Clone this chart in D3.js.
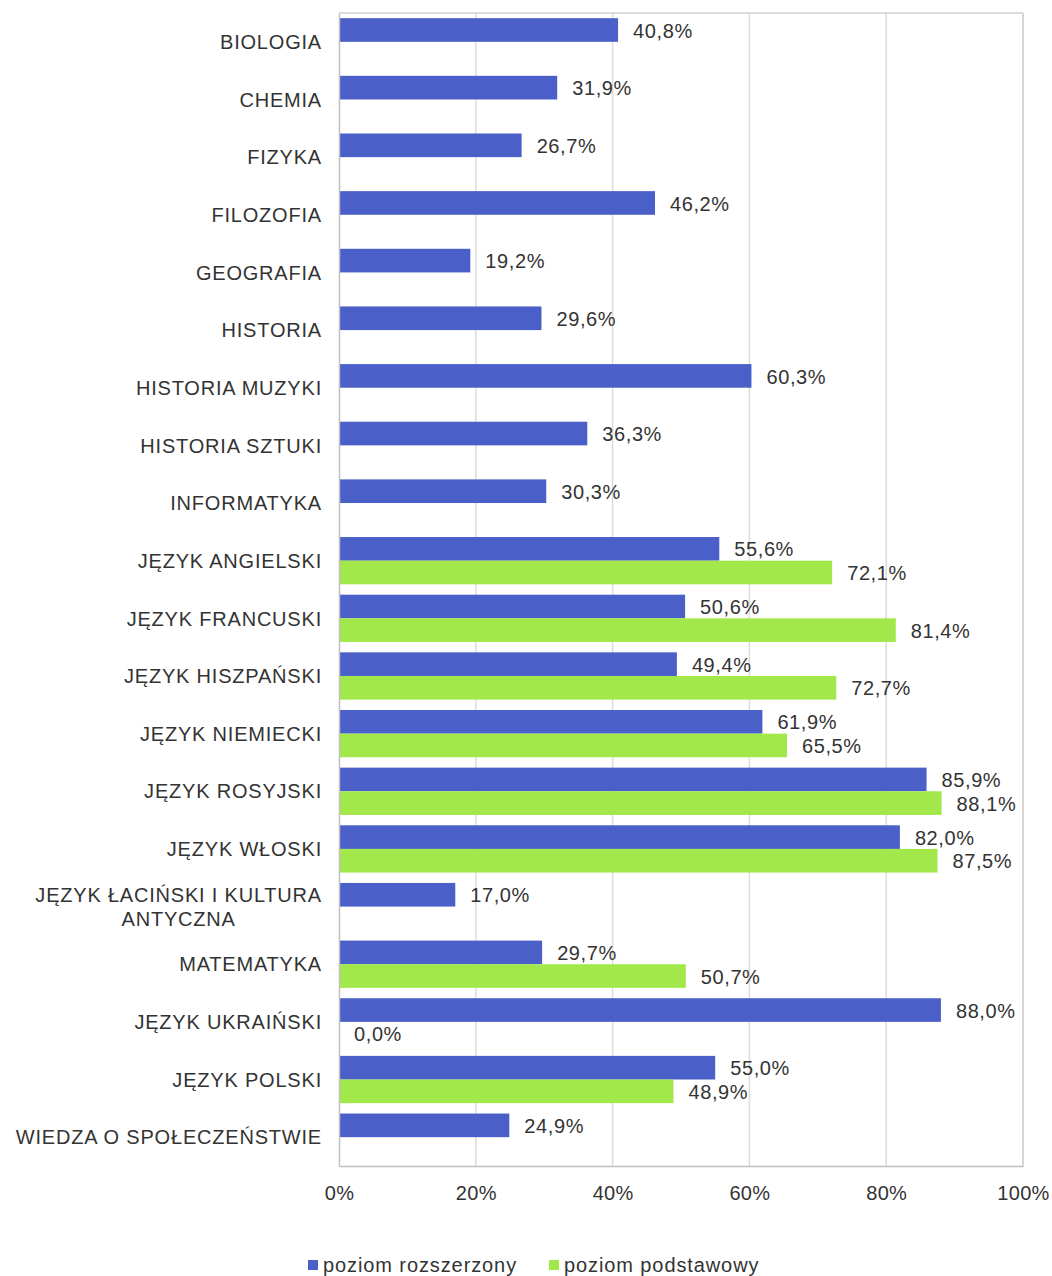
<!DOCTYPE html>
<html>
<head>
<meta charset="utf-8">
<script src="https://cdn.jsdelivr.net/npm/d3@7"></script>
<style>
  body { margin: 0; background: #fff; }
  svg text { font-family: "Liberation Sans", Arial, sans-serif; fill: #333; }
</style>
</head>
<body>
<div id="chart"></div>
<script>
const WIDTH = 1052;
const HEIGHT = 1276;
const LEFT = 339;
const RIGHT = 1023;
const TOP = 13;
const BOTTOM = 1166;

const subjects = [
  "BIOLOGIA",
  "CHEMIA",
  "FIZYKA",
  "FILOZOFIA",
  "GEOGRAFIA",
  "HISTORIA",
  "HISTORIA MUZYKI",
  "HISTORIA SZTUKI",
  "INFORMATYKA",
  "JĘZYK ANGIELSKI",
  "JĘZYK FRANCUSKI",
  "JĘZYK HISZPAŃSKI",
  "JĘZYK NIEMIECKI",
  "JĘZYK ROSYJSKI",
  "JĘZYK WŁOSKI",
  "JĘZYK ŁACIŃSKI I KULTURA\nANTYCZNA",
  "MATEMATYKA",
  "JĘZYK UKRAIŃSKI",
  "JĘZYK POLSKI",
  "WIEDZA O SPOŁECZEŃSTWIE",
];

const extended = [
  40.8, 31.9, 26.7, 46.2, 19.2, 29.6, 60.3, 36.3, 30.3, 55.6,
  50.6, 49.4, 61.9, 85.9, 82.0, 17.0, 29.7, 88.0, 55.0, 24.9,
];

const basic = [
  null, null, null, null, null, null, null, null, null, 72.1,
  81.4, 72.7, 65.5, 88.1, 87.5, null, 50.7, 0.0, 48.9, null,
];

const seriesNames = ["poziom rozszerzony", "poziom podstawowy"];
const colors = ["#4a60c8", "#a3e84b"];
const xTicks = [0, 20, 40, 60, 80, 100];

const svg = d3
  .select("#chart")
  .append("svg")
  .attr("width", WIDTH)
  .attr("height", HEIGHT);

const x = d3.scaleLinear().domain([0, 100]).range([LEFT, RIGHT]);

const y0 = d3
  .scaleBand()
  .domain(d3.range(subjects.length))
  .range([TOP, BOTTOM])
  .paddingInner(0.18)
  .paddingOuter(0.09);

const y1 = d3
  .scaleBand()
  .domain([0, 1])
  .range([0, y0.bandwidth()]);

// gridlines + frame
svg
  .append("g")
  .selectAll("line")
  .data(xTicks.slice(1))
  .enter()
  .append("line")
  .attr("x1", d => x(d))
  .attr("x2", d => x(d))
  .attr("y1", TOP)
  .attr("y2", BOTTOM)
  .attr("stroke", d => (d === 100 ? "#c8c8c8" : "#dcdcdc"))
  .attr("stroke-width", 1.5);

svg
  .append("line")
  .attr("x1", LEFT)
  .attr("x2", RIGHT)
  .attr("y1", TOP)
  .attr("y2", TOP)
  .attr("stroke", "#d0d0d0")
  .attr("stroke-width", 1.5);

// bars
const series = [extended, basic];
const rows = [];
series.forEach((vals, s) => {
  vals.forEach((v, i) => {
    if (v !== null) rows.push({ s, i, v });
  });
});

svg
  .append("g")
  .selectAll("rect")
  .data(rows)
  .enter()
  .append("rect")
  .attr("x", x(0))
  .attr("y", d => y0(d.i) + y1(d.s))
  .attr("width", d => x(d.v) - x(0))
  .attr("height", y1.bandwidth())
  .attr("fill", d => colors[d.s]);

svg
  .append("g")
  .selectAll("text")
  .data(rows)
  .enter()
  .append("text")
  .attr("x", d => x(d.v) + 15)
  .attr("y", d => y0(d.i) + y1(d.s) + y1.bandwidth() / 2)
  .attr("dy", "0.38em")
  .style("font-size", "20px")
  .style("letter-spacing", "0.6px")
  .text(d => d.v.toFixed(1).replace(".", ",") + "%");

// axes
const yAxis = d3.axisLeft(y0).tickSize(0).tickFormat("");
svg
  .append("g")
  .attr("transform", `translate(${LEFT},0)`)
  .call(yAxis)
  .call(g => g.select(".domain").attr("stroke", "#c0c0c0").attr("stroke-width", 1.5));

const xAxis = d3
  .axisBottom(x)
  .tickValues(xTicks)
  .tickSize(0)
  .tickPadding(20)
  .tickFormat(d => d + "%");
svg
  .append("g")
  .attr("transform", `translate(0,${BOTTOM})`)
  .call(xAxis)
  .call(g => g.select(".domain").attr("stroke", "#c0c0c0").attr("stroke-width", 1.5))
  .call(g =>
    g.selectAll("text").style("font-size", "20px").style("letter-spacing", "0.3px").attr("fill", "#333")
  );

// category labels
const labels = svg
  .append("g")
  .selectAll("text")
  .data(subjects)
  .enter()
  .append("text")
  .style("font-size", "20px")
  .style("letter-spacing", "0.8px")
  .attr("y", (d, i) => y0(i) + y0.bandwidth() / 2);

labels.each(function (d) {
  const lines = d.split("\n");
  const t = d3.select(this);
  if (lines.length === 1) {
    t.attr("x", 322).attr("text-anchor", "end").attr("dy", "0.36em").text(d);
  } else {
    t.attr("text-anchor", "middle");
    const w = measure(lines[0]);
    lines.forEach((line, k) => {
      t.append("tspan")
        .attr("x", 322 - w / 2)
        .attr("dy", k === 0 ? "-0.25em" : "1.2em")
        .text(line);
    });
  }
});

function measure(str) {
  const tmp = svg
    .append("text")
    .style("font-size", "20px")
    .style("letter-spacing", "0.8px")
    .text(str);
  const w = tmp.node().getComputedTextLength();
  tmp.remove();
  return w;
}

// legend
const legendX = [308, 549];
const legend = svg
  .append("g")
  .selectAll("g")
  .data(seriesNames)
  .enter()
  .append("g")
  .attr("transform", (d, i) => `translate(${legendX[i]},1260)`);

legend
  .append("rect")
  .attr("width", 10)
  .attr("height", 10)
  .attr("fill", (d, i) => colors[i]);

legend
  .append("text")
  .attr("x", 15)
  .attr("y", 5)
  .attr("dy", "0.36em")
  .style("font-size", "20px")
  .style("letter-spacing", "0.9px")
  .text(d => d);
</script>
</body>
</html>
